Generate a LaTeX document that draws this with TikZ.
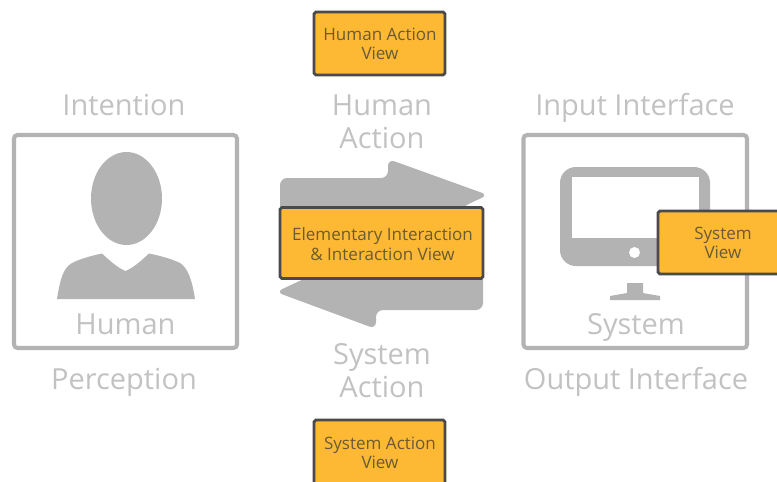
\documentclass[tikz,border=0pt]{standalone}
\usepackage{fontspec}
\setmainfont{Open Sans}
\definecolor{shapegray}{HTML}{B3B3B3}
\definecolor{labelgray}{HTML}{C2C2C2}
\definecolor{viewfill}{HTML}{FDB933}
\definecolor{viewedge}{HTML}{4A4A4A}
\definecolor{viewtext}{HTML}{6B5A35}
\tikzset{
  biglabel/.style={text=labelgray, font=\fontsize{16.5}{18.9}\selectfont, align=center, inner sep=0pt},
  framebox/.style={draw=shapegray, line width=2.3pt, rounded corners=2pt},
  viewbox/.style={draw=viewedge, fill=viewfill, line width=1.6pt, rounded corners=1pt, inner sep=0pt},
  viewlabel/.style={text=viewtext, font=\fontsize{9.7}{11.1}\selectfont, align=center, inner sep=0pt}
}
\begin{document}
\begin{tikzpicture}[x=0.02cm, y=-0.02cm]
  \useasboundingbox (0, 0) rectangle (777, 481);
  \clip (0, 0) rectangle (777, 481);

  % Human frame
  \draw[framebox] (14, 135) rectangle (237, 348);
  \fill[shapegray] (126.5, 198.5) ellipse [x radius=35.5, y radius=46.5];
  \fill[shapegray] (57, 299) .. controls (60, 280) and (63, 268) .. (72, 263)
    .. controls (80, 259) and (90, 256) .. (102, 253.5)
    .. controls (110, 261) and (118, 268) .. (125.5, 271)
    .. controls (133, 268) and (141, 261) .. (149, 253.5)
    .. controls (161, 256) and (172, 259) .. (180, 263)
    .. controls (188, 268) and (192, 280) .. (195, 299) -- cycle;

  % System frame
  \draw[framebox] (523.5, 135) rectangle (747, 348);
  \fill[shapegray, rounded corners=9] (560, 167) rectangle (710, 266);
  \fill[white] (572, 177) rectangle (699, 238);
  \fill[white] (634.5, 252.5) circle [radius=5.5];
  \fill[shapegray] (627, 283) -- (643, 283) -- (643, 293) -- (660, 296) -- (660, 300)
    -- (610, 300) -- (610, 296) -- (627, 293) -- cycle;

  % Interaction arrows
  \fill[shapegray, rounded corners=4] (280, 215) -- (280, 178) -- (388, 178)
    -- (388, 159) -- (488, 195) -- (462, 207) -- (462, 215) -- cycle;
  \fill[shapegray, rounded corners=4] (483, 270) -- (483, 310) -- (376, 310)
    -- (376, 329) -- (276, 292) -- (308, 277) -- (308, 270) -- cycle;

  % Grey labels
  \node[biglabel] (intention) at (124, 105) {Intention};
  \node[biglabel] (human) at (125.5, 324) {Human};
  \node[biglabel] (perception) at (124, 382) {Perception};
  \node[biglabel] (humanaction) at (382, 121.5) {Human\\Action};
  \node[biglabel] (systemaction) at (382, 370.5) {System\\Action};
  \node[biglabel] (input) at (635, 108) {Input Interface};
  \node[biglabel] (system) at (636, 327) {System};
  \node[biglabel] (output) at (636, 382) {Output Interface};

  % Orange view boxes
  \node[viewbox, minimum width=2.62cm, minimum height=1.26cm] (humanview) at (379.5, 43.5) {};
  \node[viewlabel] at (380, 44) {Human Action\\View};
  \node[viewbox, minimum width=2.62cm, minimum height=1.40cm] (systemactionview) at (379.5, 455) {};
  \node[viewlabel] at (380, 453) {System Action\\View};
  \node[viewbox, minimum width=4.06cm, minimum height=1.42cm] (interview) at (381.5, 243) {};
  \node[viewlabel] at (382.5, 244) {Elementary Interaction\\\& Interaction View};
  \node[viewbox, minimum width=2.6cm, minimum height=1.26cm] (systemview) at (723, 242.5) {};
  \node[viewlabel] at (723, 243) {System\\View};
\end{tikzpicture}
\end{document}
